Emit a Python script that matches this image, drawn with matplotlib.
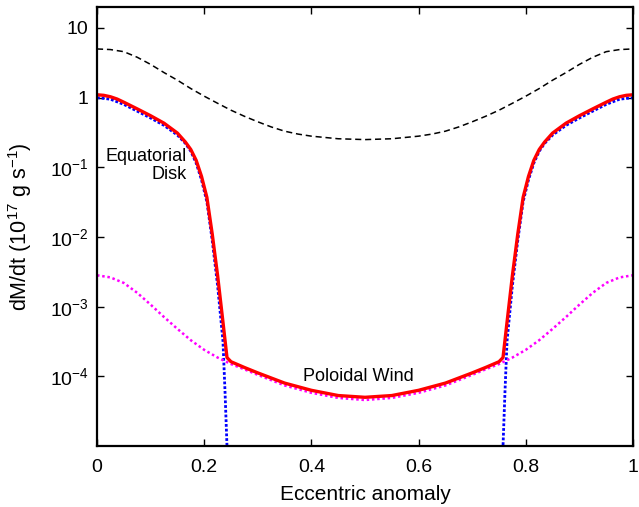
import numpy as np
import matplotlib
matplotlib.use("Agg")
import matplotlib.pyplot as plt

plt.rcParams['font.family'] = ['Liberation Sans', 'DejaVu Sans']
plt.rcParams['mathtext.default'] = 'regular'

# total accretion rate (red)
x_total = [0, .0125, .025, .0375, .05, .075, .1, .125, .15, .165, .175, .185, .195, .205, .215, .225, .235, .2425,
           .25, .275, .3, .35, .4, .45, .5, .55, .6, .65, .7, .725, .75,
           .7575, .765, .775, .785, .795, .805, .815, .825, .835, .85, .875, .9, .925, .95, .9625, .975, .9875, 1]
y_total = [1.10, 1.08, 1.03, 0.955, 0.86, 0.69, 0.55, 0.43, 0.31, 0.23, 0.18, 0.126, 0.074, 0.037, 0.011, 2.8e-3, 6.0e-4, 1.86e-4,
           1.62e-4, 1.34e-4, 1.12e-4, 8.0e-5, 6.3e-5, 5.3e-5, 5.0e-5, 5.3e-5, 6.3e-5, 8.0e-5, 1.12e-4, 1.34e-4, 1.62e-4,
           1.86e-4, 6.0e-4, 2.8e-3, 0.011, 0.037, 0.074, 0.126, 0.18, 0.23, 0.31, 0.43, 0.55, 0.69, 0.86, 0.955, 1.03, 1.08, 1.10]

# equatorial disk (blue dotted)
x_disk = [0, .025, .05, .075, .1, .125, .15, .165, .175, .185, .195, .205, .215, .225, .235, .239, .2425, .246,
          .5,
          .754, .7575, .761, .765, .775, .785, .795, .805, .815, .825, .835, .85, .875, .9, .925, .95, .975, 1]
y_disk = [1.0, .95, .80, .64, .51, .40, .29, .22, .17, .115, .066, .032, 8.9e-3, 2.0e-3, 3.2e-4, 5.6e-5, 1.0e-5, 2.5e-6,
          1e-9,
          2.5e-6, 1.0e-5, 5.6e-5, 3.2e-4, 2.0e-3, 8.9e-3, .032, .066, .115, .17, .22, .29, .40, .51, .64, .80, .95, 1.0]

# poloidal wind (magenta dotted)
x_wind = [0, .025, .05, .075, .1, .125, .15, .175, .2, .225, .25, .275, .3, .35, .4, .45, .5,
          .55, .6, .65, .7, .725, .75, .775, .8, .825, .85, .875, .9, .925, .95, .975, 1]
y_wind = [2.82e-3, 2.63e-3, 2.19e-3, 1.58e-3, 1.07e-3, 7.1e-4, 4.8e-4, 3.3e-4, 2.4e-4, 1.86e-4, 1.5e-4, 1.26e-4,
          1.05e-4, 7.4e-5, 5.8e-5, 4.9e-5, 4.57e-5,
          4.9e-5, 5.8e-5, 7.4e-5, 1.05e-4, 1.26e-4, 1.5e-4, 1.86e-4, 2.4e-4, 3.3e-4, 4.8e-4, 7.1e-4, 1.07e-3,
          1.58e-3, 2.19e-3, 2.63e-3, 2.82e-3]

# black dashed curve
x_dash = [0, .025, .05, .075, .1, .125, .15, .175, .2, .225, .25, .275, .3, .325, .35, .375, .4, .45, .5,
          .55, .6, .625, .65, .675, .7, .725, .75, .775, .8, .825, .85, .875, .9, .925, .95, .975, 1]
y_dash = [5.0, 4.9, 4.57, 3.8, 3.0, 2.29, 1.78, 1.35, 1.05, 0.83, 0.66, 0.54, 0.45, 0.38, 0.33, 0.30, 0.28, 0.257, 0.25,
          0.257, 0.28, 0.30, 0.33, 0.38, 0.45, 0.54, 0.66, 0.83, 1.05, 1.35, 1.78, 2.29, 3.0, 3.8, 4.57, 4.9, 5.0]

yticks = [1e-4, 1e-3, 1e-2, 1e-1, 1, 10]
ytick_labels = ['$10^{-4}$', '$10^{-3}$', '$10^{-2}$', '$10^{-1}$', '1', '10']
xticks = [0, 0.2, 0.4, 0.6, 0.8, 1]
xtick_labels = ['0', '0.2', '0.4', '0.6', '0.8', '1']

fig = plt.figure(figsize=(6.39, 5.07), dpi=100)
ax = fig.add_axes([97/639, 1 - 446/507, 536/639, 439/507])

ax.plot(x_dash, y_dash, color='black', lw=1.1, dashes=(4, 2.5))
ax.plot(x_disk, y_disk, color='blue', lw=2.0, linestyle=(0, (1, 0.7)))
ax.plot(x_wind, y_wind, color='magenta', lw=1.8, linestyle=(0, (1, 1.1)))
ax.plot(x_total, y_total, color='red', lw=2.4)

ax.set_yscale('log')
ax.set_xlim(0, 1)
ax.set_ylim(1e-5, 20)
ax.set_yticks(yticks)
ax.set_yticklabels(ytick_labels)
ax.set_xticks(xticks)
ax.set_xticklabels(xtick_labels)
ax.yaxis.set_minor_locator(matplotlib.ticker.NullLocator())
ax.tick_params(direction='in', length=5, width=1.0, labelsize=14,
               top=True, right=True)
ax.tick_params(axis='x', pad=9)
ax.tick_params(axis='y', pad=6)
for s in ax.spines.values():
    s.set_linewidth(1.6)

ax.set_ylabel('dM/dt (10$^{17}$ g s$^{-1}$)', fontsize=15.5)
ax.yaxis.set_label_coords(-0.118, 0.5)
ax.set_xlabel('Eccentric anomaly', fontsize=15)
ax.xaxis.set_label_coords(0.5, -0.088)

ax.text(0.168, 0.106, 'Equatorial\nDisk', ha='right', va='center', fontsize=13,
        multialignment='right', linespacing=1.1)
ax.text(0.4875, 1.0e-4, 'Poloidal Wind', ha='center', va='center', fontsize=13)

fig.savefig('out.png', dpi=100)
